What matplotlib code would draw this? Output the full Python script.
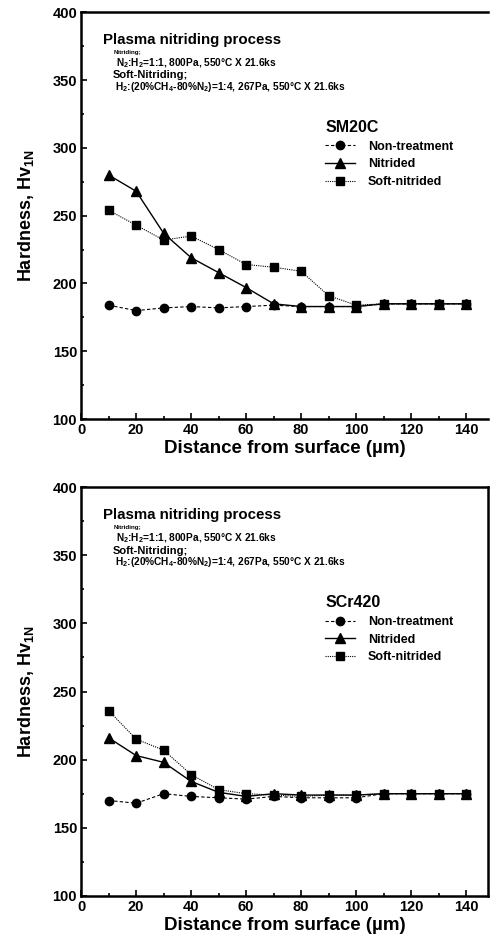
import matplotlib
matplotlib.use("Agg")
import matplotlib.pyplot as plt
from matplotlib.ticker import MultipleLocator

plt.rcParams['font.family'] = ['Liberation Sans', 'DejaVu Sans']
plt.rcParams['mathtext.default'] = 'regular'

# data
dist = [10, 20, 30, 40, 50, 60, 70, 80, 90, 100, 110, 120, 130, 140]

sm_non = [184, 180, 182, 183, 182, 183, 184, 183, 183, 183, 185, 185, 185, 185]
sm_nit = [280, 268, 237, 219, 208, 197, 185, 183, 183, 183, 185, 185, 185, 185]
sm_soft = [254, 243, 232, 235, 225, 214, 212, 209, 191, 184, 185, 185, 185, 185]

scr_non = [170, 168, 175, 173, 172, 171, 173, 172, 172, 172, 175, 175, 175, 175]
scr_nit = [216, 203, 198, 184, 176, 173, 175, 174, 174, 174, 175, 175, 175, 175]
scr_soft = [236, 215, 207, 189, 178, 175, 174, 173, 174, 174, 175, 175, 175, 175]

series_labels = ['Non-treatment', 'Nitrided', 'Soft-nitrided']
# text, size, x, y (axes fraction)
process_lines = [
    ('Plasma nitriding process', 10.8, 0.054, 0.931),
    ('Nitriding;', 4.5, 0.079, 0.902),
    ('N$_2$:H$_2$=1:1, 800Pa, 550°C X 21.6ks', 7.3, 0.085, 0.874),
    ('Soft-Nitriding;', 8, 0.077, 0.845),
    ('H$_2$:(20%CH$_4$-80%N$_2$)=1:4, 267Pa, 550°C X 21.6ks', 7.3, 0.082, 0.816),
]

fig = plt.figure(figsize=(4.92, 9.46), dpi=100)
ax_top = fig.add_axes([0.165, 0.557, 0.827, 0.430])
ax_bot = fig.add_axes([0.165, 0.053, 0.827, 0.432])


def draw_panel(ax, non, nit, soft, steel, right_spine):
    ax.plot(dist, non, color='black', ls=(0, (3, 2)), lw=0.8, marker='o', ms=6, label=series_labels[0])
    ax.plot(dist, nit, color='black', ls='-', lw=1.0, marker='^', ms=7, label=series_labels[1])
    ax.plot(dist, soft, color='black', ls=(0, (1, 1)), lw=0.8, marker='s', ms=6, label=series_labels[2])

    ax.set_xlim(0, 148)
    ax.set_ylim(100, 400)
    ax.xaxis.set_major_locator(MultipleLocator(20))
    ax.xaxis.set_minor_locator(MultipleLocator(10))
    ax.yaxis.set_major_locator(MultipleLocator(50))
    ax.yaxis.set_minor_locator(MultipleLocator(25))
    ax.tick_params(which='both', direction='in', top=False, right=False,
                   width=1.2, labelsize=10.5, pad=3)
    ax.tick_params(which='major', length=4)
    ax.tick_params(which='minor', length=2.5)
    for lab in ax.get_xticklabels() + ax.get_yticklabels():
        lab.set_fontweight('bold')
    for s in ['left', 'bottom', 'top', 'right']:
        ax.spines[s].set_linewidth(1.8)
    ax.spines['right'].set_visible(right_spine)

    ax.set_xlabel('Distance from surface (µm)', fontsize=13.5, fontweight='bold', labelpad=2)
    ax.set_ylabel('Hardness, Hv$_{1N}$', fontsize=13, fontweight='bold')
    ax.yaxis.set_label_coords(-0.112, 0.5)

    for txt, fs, x, y in process_lines:
        ax.text(x, y, txt, transform=ax.transAxes, fontsize=fs,
                fontweight='bold', va='center', ha='left')

    ax.legend(loc='upper left', bbox_to_anchor=(0.6, 0.735), frameon=False,
              handlelength=2.4, handletextpad=1.0,
              labelspacing=0.45, borderpad=0, borderaxespad=0,
              title=steel, title_fontproperties={'weight': 'bold', 'size': 11.5},
              alignment='left', prop={'weight': 'bold', 'size': 9})


draw_panel(ax_top, sm_non, sm_nit, sm_soft, 'SM20C', False)
draw_panel(ax_bot, scr_non, scr_nit, scr_soft, 'SCr420', True)

fig.savefig('out.png', dpi=100)
